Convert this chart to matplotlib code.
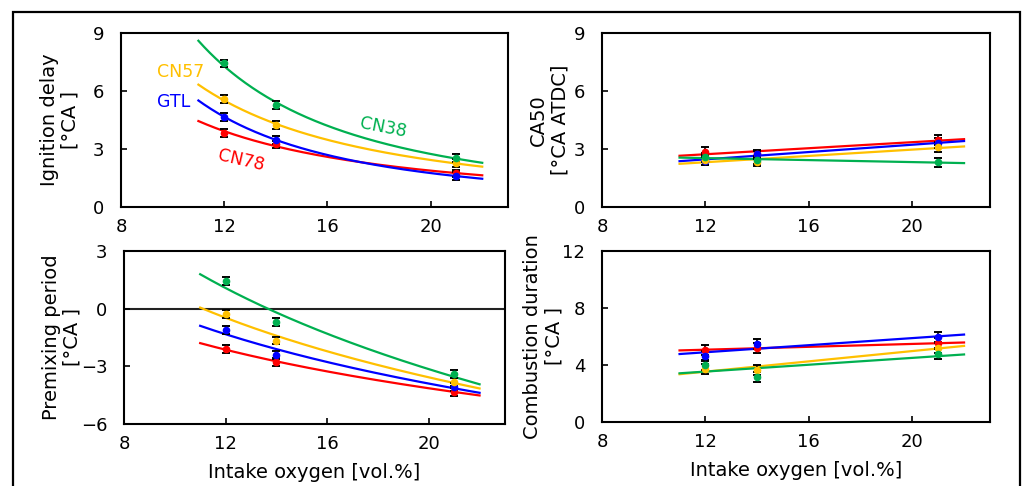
import numpy as np
import matplotlib
matplotlib.use("Agg")
import matplotlib.pyplot as plt
import matplotlib.transforms as mtransforms
from matplotlib.patches import Rectangle

plt.rcParams['font.family'] = ['DejaVu Sans']

# ---- data ----
oxygen = [12, 14, 21]
fuels = ["CN38", "CN57", "GTL", "CN78"]
colors = {"CN38": "#00B050", "CN57": "#FFC000", "GTL": "#0000FF", "CN78": "#FF0000"}

ign_cn38 = [7.43, 5.28, 2.52]
ign_cn57 = [5.57, 4.24, 2.26]
ign_gtl = [4.67, 3.47, 1.60]
ign_cn78 = [3.84, 3.24, 1.74]

ca50_cn38 = [2.57, 2.43, 2.31]
ca50_cn57 = [2.45, 2.31, 3.09]
ca50_gtl = [2.40, 2.74, 3.30]
ca50_cn78 = [2.86, 2.72, 3.47]

pre_cn38 = [1.44, -0.71, -3.41]
pre_cn57 = [-0.29, -1.66, -3.80]
pre_gtl = [-1.11, -2.41, -4.06]
pre_cn78 = [-2.10, -2.79, -4.32]

cd_cn38 = [4.00, 3.18, 4.75]
cd_cn57 = [3.72, 3.65, 5.21]
cd_gtl = [4.65, 5.45, 5.94]
cd_cn78 = [5.05, 5.20, 5.52]

err_ign = [0.2, 0.2, 0.2]
err_ca50 = [0.25, 0.2, 0.25]
err_pre = [0.2, 0.2, 0.2]
err_cd = [0.35, 0.35, 0.35]

fit_range = [11, 22]

panels = [
    dict(name="ign", data={"CN38": ign_cn38, "CN57": ign_cn57, "GTL": ign_gtl, "CN78": ign_cn78},
         err=err_ign, fit="power", ylim=(0, 9), yticks=[0, 3, 6, 9],
         ylabel="Ignition delay\n[°CA ]", rect=[0.1184, 0.574, 0.3787, 0.358], xlabel=None),
    dict(name="ca50", data={"CN38": ca50_cn38, "CN57": ca50_cn57, "GTL": ca50_gtl, "CN78": ca50_cn78},
         err=err_ca50, fit="linear", ylim=(0, 9), yticks=[0, 3, 6, 9],
         ylabel="CA50\n[°CA ATDC]", rect=[0.589, 0.574, 0.3796, 0.358], xlabel=None),
    dict(name="pre", data={"CN38": pre_cn38, "CN57": pre_cn57, "GTL": pre_gtl, "CN78": pre_cn78},
         err=err_pre, fit="log", ylim=(-6, 3), yticks=[-6, -3, 0, 3],
         ylabel="Premixing period\n[°CA ]", rect=[0.1213, 0.1276, 0.3728, 0.356],
         xlabel="Intake oxygen [vol.%]"),
    dict(name="cd", data={"CN38": cd_cn38, "CN57": cd_cn57, "GTL": cd_gtl, "CN78": cd_cn78},
         err=err_cd, fit="linear", ylim=(0, 12), yticks=[0, 4, 8, 12],
         ylabel="Combustion duration\n[°CA ]", rect=[0.589, 0.1317, 0.3796, 0.352],
         xlabel="Intake oxygen [vol.%]"),
]
ylabel_x = {"ign": 80 / 1022, "ca50": 569 / 1022, "pre": 82 / 1022, "cd": 563 / 1022}

fig = plt.figure(figsize=(10.22, 4.86), dpi=100)
fig.patch.set_facecolor("white")
fig.patches.append(Rectangle((13 / 1022, -0.05), (1020 - 13) / 1022, 1.05 - 12 / 486,
                             transform=fig.transFigure, fill=False, edgecolor="black",
                             linewidth=1.6, figure=fig))

x = np.array(oxygen, dtype=float)
xf = np.linspace(fit_range[0], fit_range[1], 200)

axes = {}
for p in panels:
    ax = fig.add_axes(p["rect"])
    axes[p["name"]] = ax
    if p["name"] == "pre":
        ax.axhline(0, color="#222222", lw=1.5, zorder=1)
    for f in ["CN78", "GTL", "CN57", "CN38"]:
        y = np.array(p["data"][f], dtype=float)
        if p["fit"] == "power":
            b, a = np.polyfit(np.log(x), np.log(y), 1)
            yf = np.exp(a) * xf ** b
        elif p["fit"] == "log":
            b, a = np.polyfit(np.log(x), y, 1)
            yf = a + b * np.log(xf)
        else:
            b, a = np.polyfit(x, y, 1)
            yf = a + b * xf
        ax.plot(xf, yf, color=colors[f], lw=1.6, zorder=2)
    for f in ["CN78", "GTL", "CN57", "CN38"]:
        y = p["data"][f]
        ax.errorbar(oxygen, y, yerr=p["err"], fmt="none", ecolor="black",
                    elinewidth=1.2, capsize=3, capthick=1.4, zorder=3)
        ax.plot(oxygen, y, "o", color=colors[f], ms=5.5, zorder=4, mec="none")
    ax.set_xlim(8, 23)
    ax.set_ylim(*p["ylim"])
    ax.set_xticks([8, 12, 16, 20])
    ax.set_yticks(p["yticks"])
    ax.tick_params(direction="in", length=4, width=1.2, labelsize=13, colors="black")
    ax.tick_params(axis="y", pad=12)
    ax.tick_params(axis="x", pad=8)
    for s in ax.spines.values():
        s.set_linewidth(1.5)
    ax.set_ylabel(p["ylabel"], fontsize=14, linespacing=1.15)
    ax.yaxis.label.set_transform(
        mtransforms.blended_transform_factory(fig.transFigure, ax.transAxes))
    ax.yaxis.label.set_position((ylabel_x[p["name"]], 0.5))
    ax.yaxis.set_label_coords(ylabel_x[p["name"]], 0.5,
                              transform=mtransforms.blended_transform_factory(fig.transFigure, ax.transAxes))
    if p["xlabel"]:
        ax.set_xlabel(p["xlabel"], fontsize=14, labelpad=7)

ax = axes["ign"]
ax.text(9.4, 6.98, "CN57", color=colors["CN57"], fontsize=12.5, ha="left", va="center")
ax.text(9.4, 5.43, "GTL", color=colors["GTL"], fontsize=12.5, ha="left", va="center")
ax.text(18.17, 4.09, "CN38", color=colors["CN38"], fontsize=12.5, ha="center", va="center",
        rotation=-11)
ax.text(12.66, 2.43, "CN78", color=colors["CN78"], fontsize=12.5, ha="center", va="center",
        rotation=-13)

fig.savefig("out.png", dpi=100)
